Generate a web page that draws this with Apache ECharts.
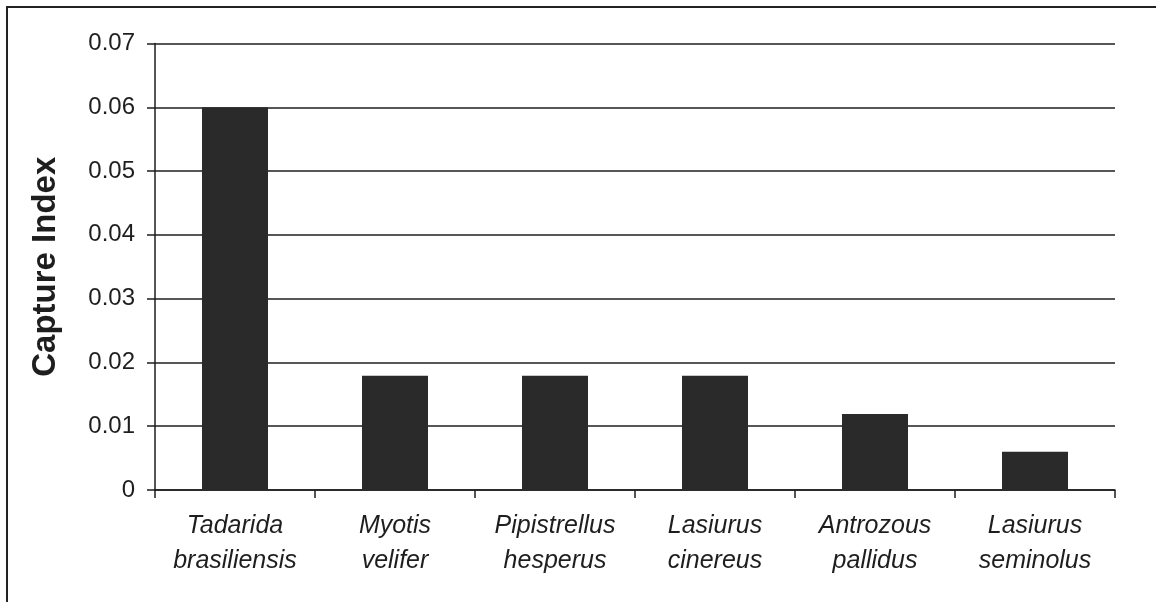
<!DOCTYPE html>
<html>
<head>
<meta charset="utf-8">
<script src="https://cdn.jsdelivr.net/npm/echarts@6/dist/echarts.min.js"></script>
<style>
  html, body { margin: 0; padding: 0; background: #fff; }
  #wrap { position: relative; width: 1156px; height: 602px; }
  #chart { width: 1156px; height: 602px; }
  #frame { position: absolute; left: 6px; top: 6px; right: 0; bottom: 0;
           border-top: 2px solid #222; border-left: 2px solid #222; pointer-events: none; }
</style>
</head>
<body>
<div id="wrap">
  <div id="chart"></div>
  <div id="frame"></div>
</div>
<script>
const categories = [
  'Tadarida\nbrasiliensis',
  'Myotis\nvelifer',
  'Pipistrellus\nhesperus',
  'Lasiurus\ncinereus',
  'Antrozous\npallidus',
  'Lasiurus\nseminolus'
];
const captureIndex = [0.06, 0.0179, 0.0179, 0.0179, 0.0119, 0.006];
const yTicks = { min: 0, max: 0.07, interval: 0.01 };
const yTitle = 'Capture Index';

const chart = echarts.init(document.getElementById('chart'), null, { renderer: 'canvas' });
const dark = '#1e1e1e';
chart.setOption({
  backgroundColor: 'transparent',
  animation: false,
  grid: { left: 155, right: 41, top: 43.5, bottom: 112, containLabel: false },
  xAxis: {
    type: 'category',
    data: categories,
    boundaryGap: true,
    axisLine: { show: true, lineStyle: { color: dark, width: 1.5 } },
    axisTick: { show: true, length: 8, alignWithLabel: false, lineStyle: { color: dark, width: 1.5 } },
    axisLabel: {
      interval: 0,
      margin: 19,
      fontFamily: 'Liberation Sans, Arial, sans-serif',
      fontStyle: 'italic',
      fontSize: 25,
      lineHeight: 35,
      color: '#1e1e1e'
    },
    splitLine: { show: false }
  },
  yAxis: {
    type: 'value',
    min: yTicks.min,
    max: yTicks.max,
    interval: yTicks.interval,
    name: yTitle,
    nameLocation: 'middle',
    nameRotate: 90,
    nameGap: 93,
    nameTextStyle: {
      fontFamily: 'Liberation Sans, Arial, sans-serif',
      fontWeight: 'bold',
      fontSize: 33,
      color: '#1e1e1e'
    },
    axisLine: { show: true, lineStyle: { color: dark, width: 1.5 } },
    axisTick: { show: true, length: 8, inside: false, lineStyle: { color: dark, width: 1.5 } },
    axisLabel: {
      margin: 20,
      fontFamily: 'Liberation Sans, Arial, sans-serif',
      fontSize: 24,
      color: '#1e1e1e',
      formatter: function (v) { return v === 0 ? '0' : v.toFixed(2); }
    },
    splitLine: { show: true, lineStyle: { color: dark, width: 1.5 } }
  },
  series: [{
    type: 'bar',
    data: captureIndex,
    barWidth: 66,
    itemStyle: { color: '#2a2a2a' },
    z: 3
  }]
});
</script>
</body>
</html>
